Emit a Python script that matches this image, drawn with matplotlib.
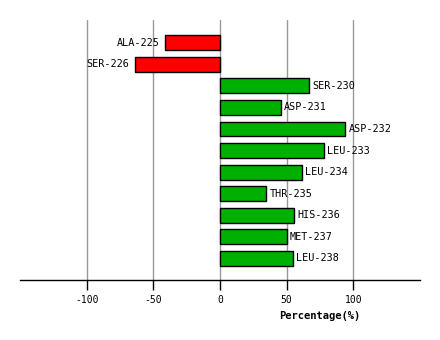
import matplotlib
matplotlib.use('Agg')
import matplotlib.pyplot as plt

residues = ['ALA-225', 'SER-226', 'SER-230', 'ASP-231', 'ASP-232', 'LEU-233',
            'LEU-234', 'THR-235', 'HIS-236', 'MET-237', 'LEU-238']
percent = [-41, -64, 66.5, 45.5, 94, 78, 61.5, 34.5, 55.5, 50, 54.5]

plt.rcParams['font.family'] = 'DejaVu Sans Mono'
plt.rcParams['axes.unicode_minus'] = False

fig = plt.figure(figsize=(4.4, 3.4), dpi=100)
ax = fig.add_axes([20/440, 60/340, 400/440, 260/340])

pos = list(range(len(residues)))
colors = ['#ff0000' if v < 0 else '#00b000' for v in percent]
ax.barh(pos, percent, height=0.69, color=colors, edgecolor='black', linewidth=1, zorder=3)

for p, v, name in zip(pos, percent, residues):
    if v < 0:
        ax.text(v - 4, p, name, ha='right', va='center', fontsize=7.3)
    else:
        ax.text(v + 2.5, p, name, ha='left', va='center', fontsize=7.3)

ax.set_xlim(-150, 150)
ax.set_ylim(11, -1.05)
ax.set_xticks([-100, -50, 0, 50, 100])
ax.set_yticks([])
ax.grid(axis='x', color='#999999', linewidth=1, zorder=0)
for s in ['left', 'right', 'top']:
    ax.spines[s].set_visible(False)
ax.spines['bottom'].set_linewidth(1)
ax.tick_params(axis='x', length=7, width=1, labelsize=7, pad=4)
ax.set_xlabel('Percentage(%)', fontsize=7.5, fontweight='bold')
ax.xaxis.set_label_coords(0.75, -0.12)

fig.savefig('out.png', dpi=100)
